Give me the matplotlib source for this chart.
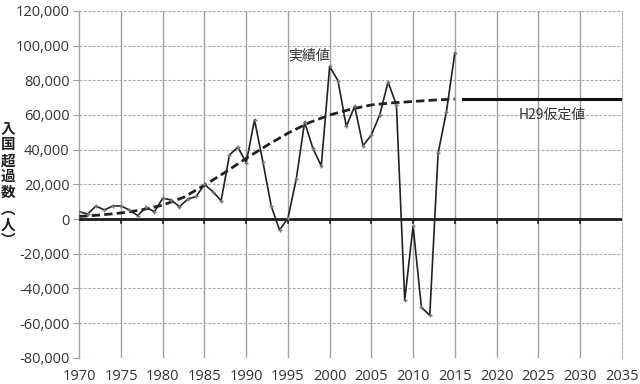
import matplotlib
matplotlib.use("Agg")
import matplotlib.pyplot as plt
from matplotlib.ticker import FuncFormatter

plt.rcParams['font.family'] = ['Open Sans', 'Noto Sans CJK JP', 'DejaVu Sans']

# actual net immigration (実績値), 1970-2015
years = list(range(1970, 2016))
actual = [4200, 2900, 7500, 5200, 7500, 7500, 5200, 2000, 6700, 4200,
          12000, 11000, 7100, 11500, 13000, 20000, 15800, 10600, 37000, 41400,
          32500, 57200, 33000, 7500, -6400, 400, 23000, 55900, 40700, 30600,
          88000, 79800, 53400, 65000, 42200, 48500, 60000, 79000, 65900, -46800,
          -4000, -51000, -55500, 38000, 62000, 95800]

# fitted trend (dashed) and H29 assumption (thick line)
trend_years = [1970, 1972.5, 1975, 1977.5, 1980, 1982.5, 1985, 1987.5, 1990, 1992.5,
               1995, 1997.5, 2000, 2002.5, 2005, 2007.5, 2010, 2012.5, 2015]
trend = [1500, 2300, 3500, 5300, 8000, 12500, 19500, 27000, 35000, 42500,
         49500, 55500, 60000, 63300, 65800, 67000, 67800, 68600, 69200]
assume_years = [2016, 2035]
assume = [69500, 69500]

fig = plt.figure(figsize=(6.4, 3.84), dpi=100)
ax = fig.add_axes([0.1239, 0.0685, 0.8475, 0.9029])

ax.set_xlim(1970, 2035)
ax.set_ylim(-80000, 120000)
ax.set_xticks(range(1970, 2036, 5))
ax.set_yticks(range(-80000, 120001, 20000))

# grid: solid vertical, dashed horizontal
for x in range(1975, 2035, 5):
    ax.axvline(x, color='#a0a0a0', lw=1.0, zorder=1)
for y in range(-80000, 120001, 20000):
    ax.axhline(y, color='#a8a8a8', lw=0.8, ls=(0, (2.5, 1.5)), zorder=1)

for s in ['top', 'bottom']:
    ax.spines[s].set_visible(False)
ax.spines['left'].set_color('#a0a0a0')
ax.spines['left'].set_linewidth(1.0)
ax.spines['right'].set_color('#b0b0b0')
ax.spines['right'].set_linestyle((0, (2.5, 1.5)))
ax.spines['right'].set_linewidth(0.8)

# zero axis with ticks
ax.axhline(0, color='#1a1a1a', lw=2.0, zorder=3)
ax.tick_params(axis='x', length=0, labelsize=10.5, colors='#333333', pad=8)
ax.tick_params(axis='y', length=4, color='#a0a0a0', labelsize=10.5, labelcolor='#333333', pad=3)
ax.yaxis.set_major_formatter(FuncFormatter(lambda v, p: f"{int(v):,}"))
for x in range(1975, 2035, 5):
    ax.plot([x, x], [0, -2500], color='#1a1a1a', lw=1.2, zorder=3)

ax.plot(years, actual, color='#222222', lw=1.2, marker='+', ms=3, mec='#777777', zorder=5)
ax.plot(trend_years, trend, color='#222222', lw=2.0, ls=(0, (3, 1.5)), zorder=4)
ax.plot(assume_years, assume, color='#111111', lw=2.2, zorder=4)

cjk = ['Noto Sans CJK JP', 'DejaVu Sans']
ax.text(1995.0, 94600, '実績値', family=cjk, fontsize=10, color='#333333', ha='left', va='center')
ax.text(2022.6, 60000, 'H29仮定値', family=cjk, fontsize=10, color='#333333', ha='left', va='center')

fig.text(0.013, 0.52, '入\n国\n超\n過\n数\n︵\n人\n︶', family=cjk, fontsize=10.5,
         fontweight='bold', color='#222222', ha='center', va='center', linespacing=1.0)

fig.savefig('out.png', dpi=100)
